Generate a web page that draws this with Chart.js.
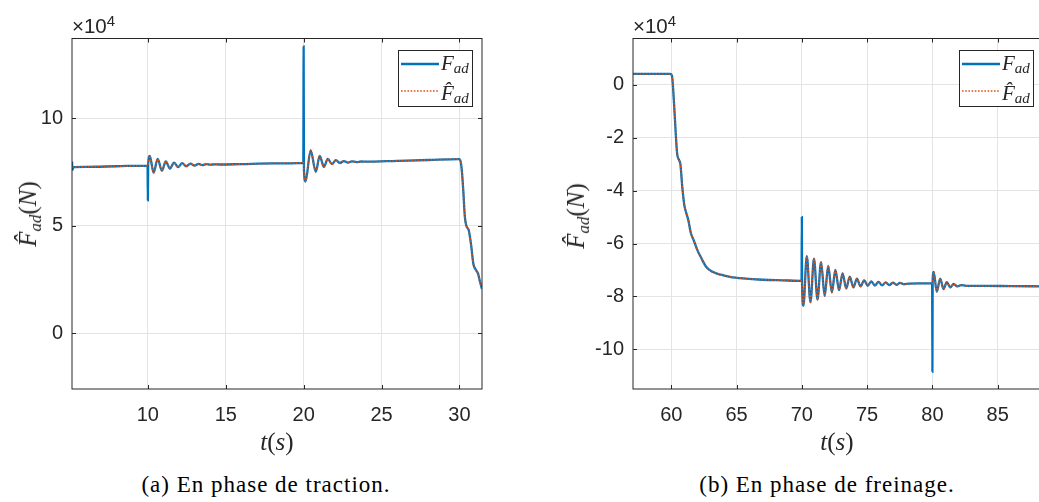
<!DOCTYPE html>
<html>
<head>
<meta charset="utf-8">
<script src="https://cdn.jsdelivr.net/npm/chart.js@4/dist/chart.umd.min.js"></script>
<style>
  html, body { margin:0; padding:0; background:#fff; width:1039px; height:502px; overflow:hidden; position:relative; }
  canvas { position:absolute; top:0; }
  .txt { position:absolute; white-space:nowrap; color:#262626; }
  .exp { font-family:"Liberation Sans", Arial, sans-serif; font-size:20.5px; line-height:20px; }
  .exp sup { font-size:15px; position:relative; top:-3px; vertical-align:top; line-height:15px; }
  .math { font-family:"Liberation Serif", "Times New Roman", serif; font-size:25px; line-height:26px; color:#262626; }
  .math sub { font-size:17px; vertical-align:-5px; line-height:0; }
  .ylab { transform:translate(-50%,-50%) rotate(-90deg); }
  .xlab { transform:translateX(-50%); }
  .cap { font-family:"Liberation Serif", "Times New Roman", serif; font-size:23px; line-height:26px; color:#000; transform:translateX(-50%); letter-spacing:1px; }
</style>
</head>
<body>
<canvas id="cA" width="520" height="440" style="left:0px"></canvas>
<canvas id="cB" width="540" height="440" style="left:520px"></canvas>

<div class="txt exp" style="left:72px;top:16px">×10<sup>4</sup></div>
<div class="txt exp" style="left:633px;top:16px">×10<sup>4</sup></div>

<div class="txt math ylab" style="left:28px;top:214px"><i>F̂</i><sub><i>ad</i></sub>(<i>N</i>)</div>
<div class="txt math ylab" style="left:576px;top:216px"><i>F̂</i><sub><i>ad</i></sub>(<i>N</i>)</div>

<div class="txt math xlab" style="left:277px;top:429px"><i>t</i>(<i>s</i>)</div>
<div class="txt math xlab" style="left:837px;top:429px"><i>t</i>(<i>s</i>)</div>

<div class="txt cap" style="left:266px;top:472px">(a) En phase de traction.</div>
<div class="txt cap" style="left:827px;top:472px">(b) En phase de freinage.</div>

<script>
// ---------- DATA (values in units of 10^4 N) ----------
// (a) traction phase
const tA    = [5.13, 5.16, 5.22, 6.0, 8.0, 9.98, 10.0, 10.02, 10.12, 10.37, 10.63, 10.9, 11.15, 11.42, 11.68, 11.95, 12.2, 12.47, 12.73, 13.0, 13.25, 13.5, 13.75, 14.0, 14.3, 14.6, 16.0, 18.0, 19.98, 20.0, 20.02, 20.12, 20.45, 20.78, 21.03, 21.3, 21.55, 21.82, 22.07, 22.33, 22.58, 22.85, 23.1, 23.4, 23.7, 24.0, 26.0, 28.0, 29.95, 30.05, 30.15, 30.25, 30.35, 30.45, 30.6, 30.75, 30.9, 31.05, 31.2, 31.3, 31.45];
const fadA  = [7.98, 7.60, 7.72, 7.73, 7.76, 7.79, 6.17, 7.85, 8.24, 7.46, 8.10, 7.55, 7.98, 7.65, 7.93, 7.72, 7.90, 7.76, 7.88, 7.79, 7.87, 7.81, 7.86, 7.83, 7.85, 7.84, 7.86, 7.89, 7.92, 13.33, 7.60, 7.05, 8.50, 7.50, 8.24, 7.73, 8.10, 7.86, 8.04, 7.91, 8.00, 7.93, 7.99, 7.95, 7.98, 7.97, 8.01, 8.05, 8.09, 8.05, 7.60, 6.60, 5.40, 4.98, 4.78, 4.10, 3.20, 2.95, 2.75, 2.45, 2.05];
const fhatA = [7.72, 7.72, 7.72, 7.73, 7.76, 7.79, 7.80, 7.85, 8.24, 7.46, 8.10, 7.55, 7.98, 7.65, 7.93, 7.72, 7.90, 7.76, 7.88, 7.79, 7.87, 7.81, 7.86, 7.83, 7.85, 7.84, 7.86, 7.89, 7.92, 7.92, 7.60, 7.05, 8.50, 7.50, 8.24, 7.73, 8.10, 7.86, 8.04, 7.91, 8.00, 7.93, 7.99, 7.95, 7.98, 7.97, 8.01, 8.05, 8.09, 8.05, 7.60, 6.60, 5.40, 4.98, 4.78, 4.10, 3.20, 2.95, 2.75, 2.45, 2.05];
const xTicksA = [10, 15, 20, 25, 30];
const yTicksA = [0, 5, 10];
const xLimA = [5.13, 31.45];
const yLimA = [-2.6, 13.7];

// (b) braking phase
const tB    = [57.07, 59.9, 60.05, 60.2, 60.35, 60.45, 60.6, 60.7, 60.85, 61.0, 61.15, 61.3, 61.5, 61.7, 62.0, 62.3, 62.7, 63.2, 63.8, 64.5, 65.5, 67.0, 68.5, 69.98, 70.0, 70.02, 70.12, 70.38, 70.66, 70.93, 71.2, 71.47, 71.75, 72.02, 72.3, 72.57, 72.85, 73.12, 73.4, 73.67, 73.95, 74.22, 74.5, 74.77, 75.05, 75.32, 75.6, 75.87, 76.15, 76.42, 76.7, 76.97, 77.25, 77.52, 77.8, 78.2, 79.0, 79.98, 80.0, 80.02, 80.1, 80.33, 80.6, 80.85, 81.1, 81.37, 81.63, 81.9, 82.2, 82.6, 84.0, 86.0, 88.47];
const fadB  = [0.41, 0.41, 0.35, -0.6, -1.9, -2.6, -2.85, -3.0, -3.9, -4.55, -4.85, -5.1, -5.6, -5.85, -6.25, -6.55, -6.9, -7.08, -7.18, -7.26, -7.32, -7.37, -7.39, -7.41, -5.0, -7.6, -8.35, -6.48, -8.22, -6.57, -8.12, -6.70, -7.98, -6.85, -7.85, -7.0, -7.76, -7.13, -7.70, -7.25, -7.66, -7.33, -7.62, -7.39, -7.60, -7.43, -7.59, -7.45, -7.58, -7.47, -7.57, -7.48, -7.56, -7.49, -7.54, -7.52, -7.51, -7.51, -10.85, -7.4, -7.07, -7.82, -7.33, -7.72, -7.46, -7.66, -7.53, -7.62, -7.57, -7.60, -7.60, -7.61, -7.62];
const fhatB = [0.41, 0.41, 0.35, -0.6, -1.9, -2.6, -2.85, -3.0, -3.9, -4.55, -4.85, -5.1, -5.6, -5.85, -6.25, -6.55, -6.9, -7.08, -7.18, -7.26, -7.32, -7.37, -7.39, -7.41, -7.41, -7.6, -8.35, -6.48, -8.22, -6.57, -8.12, -6.70, -7.98, -6.85, -7.85, -7.0, -7.76, -7.13, -7.70, -7.25, -7.66, -7.33, -7.62, -7.39, -7.60, -7.43, -7.59, -7.45, -7.58, -7.47, -7.57, -7.48, -7.56, -7.49, -7.54, -7.52, -7.51, -7.51, -7.51, -7.4, -7.07, -7.82, -7.33, -7.72, -7.46, -7.66, -7.53, -7.62, -7.57, -7.60, -7.60, -7.61, -7.62];
const xTicksB = [60, 65, 70, 75, 80, 85];
const yTicksB = [0, -2, -4, -6, -8, -10];
const xLimB = [57.07, 88.47];
const yLimB = [-11.5, 1.75];

const seriesNames = ['F', 'F\u0302'];

// ---------- RENDERING ----------
const BLUE = '#0072BD', ORANGE = '#D95319', AX = '#262626';

const boxPlugin = {
  id: 'matBox',
  afterDraw(chart, args, opts) {
    const ctx = chart.ctx, a = chart.chartArea, x = chart.scales.x, y = chart.scales.y;
    ctx.save();
    ctx.strokeStyle = AX; ctx.lineWidth = 1;
    ctx.beginPath();
    x.ticks.forEach(t => {
      const p = Math.round(x.getPixelForValue(t.value)) + 0.5;
      ctx.moveTo(p, a.bottom); ctx.lineTo(p, a.bottom - 4);
      ctx.moveTo(p, a.top); ctx.lineTo(p, a.top + 4);
    });
    y.ticks.forEach(t => {
      const p = Math.round(y.getPixelForValue(t.value)) + 0.5;
      ctx.moveTo(a.left, p); ctx.lineTo(a.left + 4, p);
      ctx.moveTo(a.right, p); ctx.lineTo(a.right - 4, p);
    });
    ctx.stroke();
    ctx.strokeRect(a.left, a.top, a.right - a.left, a.bottom - a.top);

    // legend
    const w = 74, h = 56;
    const L = a.right - opts.rightGap - w, T = a.top + 11.5;
    ctx.fillStyle = '#fff';
    ctx.fillRect(L, T, w, h);
    ctx.strokeStyle = AX; ctx.lineWidth = 1;
    ctx.strokeRect(Math.round(L) + 0.5, Math.round(T) + 0.5, w, h);
    const rows = [T + 14, T + 41];
    chart.data.datasets.slice().sort((p, q) => p.legendIdx - q.legendIdx).forEach((ds, i) => {
      ctx.save();
      ctx.strokeStyle = ds.borderColor;
      ctx.lineWidth = ds.borderWidth;
      ctx.setLineDash(ds.borderDash || []);
      ctx.beginPath();
      ctx.moveTo(L + 3, rows[i]); ctx.lineTo(L + 41, rows[i]);
      ctx.stroke();
      ctx.restore();
      ctx.fillStyle = AX;
      ctx.textBaseline = 'alphabetic';
      ctx.font = 'italic 21px "Liberation Serif"';
      const base = i === 0 ? T + 20 : T + 50;
      ctx.fillText(seriesNames[i], L + 43, base);
      const fw = ctx.measureText('F').width;
      ctx.font = 'italic 15px "Liberation Serif"';
      ctx.fillText('ad', L + 43 + fw, base + 3);
    });
    ctx.restore();
  }
};

function makeChart(id, t, fad, fhat, xLim, yLim, xTicks, yTicks, yWidth, rightPad, legendGap) {
  const toPts = arr => t.map((v, i) => ({ x: v, y: arr[i] }));
  return new Chart(document.getElementById(id), {
    type: 'line',
    data: {
      datasets: [
        { label: 'Fhat', data: toPts(fhat), borderColor: ORANGE, borderWidth: 1.6, borderDash: [1.6, 1.6],
          pointRadius: 0, cubicInterpolationMode: 'monotone', order: 0, legendIdx: 1 },
        { label: 'F', data: toPts(fad), borderColor: BLUE, borderWidth: 2.3,
          pointRadius: 0, cubicInterpolationMode: 'monotone', order: 1, legendIdx: 0 }
      ]
    },
    options: {
      responsive: false, animation: false, devicePixelRatio: 1,
      layout: { padding: { top: 38.5, right: rightPad, left: 0, bottom: 0 } },
      plugins: { legend: { display: false }, tooltip: { enabled: false }, matBox: { rightGap: legendGap } },
      scales: {
        x: {
          type: 'linear', min: xLim[0], max: xLim[1],
          afterBuildTicks: s => { s.ticks = xTicks.map(v => ({ value: v })); },
          afterFit: s => { s.height = 51; },
          grid: { color: '#e4e4e4', lineWidth: 1, drawTicks: false },
          border: { display: false },
          ticks: { padding: 14, color: AX, font: { family: '"Liberation Sans"', size: 20 }, maxRotation: 0 }
        },
        y: {
          type: 'linear', min: yLim[0], max: yLim[1],
          afterBuildTicks: s => { s.ticks = yTicks.map(v => ({ value: v })); },
          afterFit: s => { s.width = yWidth; },
          grid: { color: '#e4e4e4', lineWidth: 1, drawTicks: false },
          border: { display: false },
          ticks: { padding: 9, color: AX, font: { family: '"Liberation Sans"', size: 20 } }
        }
      }
    },
    plugins: [boxPlugin]
  });
}

makeChart('cA', tA, fadA, fhatA, xLimA, yLimA, xTicksA, yTicksA, 72, 38, 10);
makeChart('cB', tB, fadB, fhatB, xLimB, yLimB, xTicksB, yTicksB, 113, 17, 10);
</script>
</body>
</html>
